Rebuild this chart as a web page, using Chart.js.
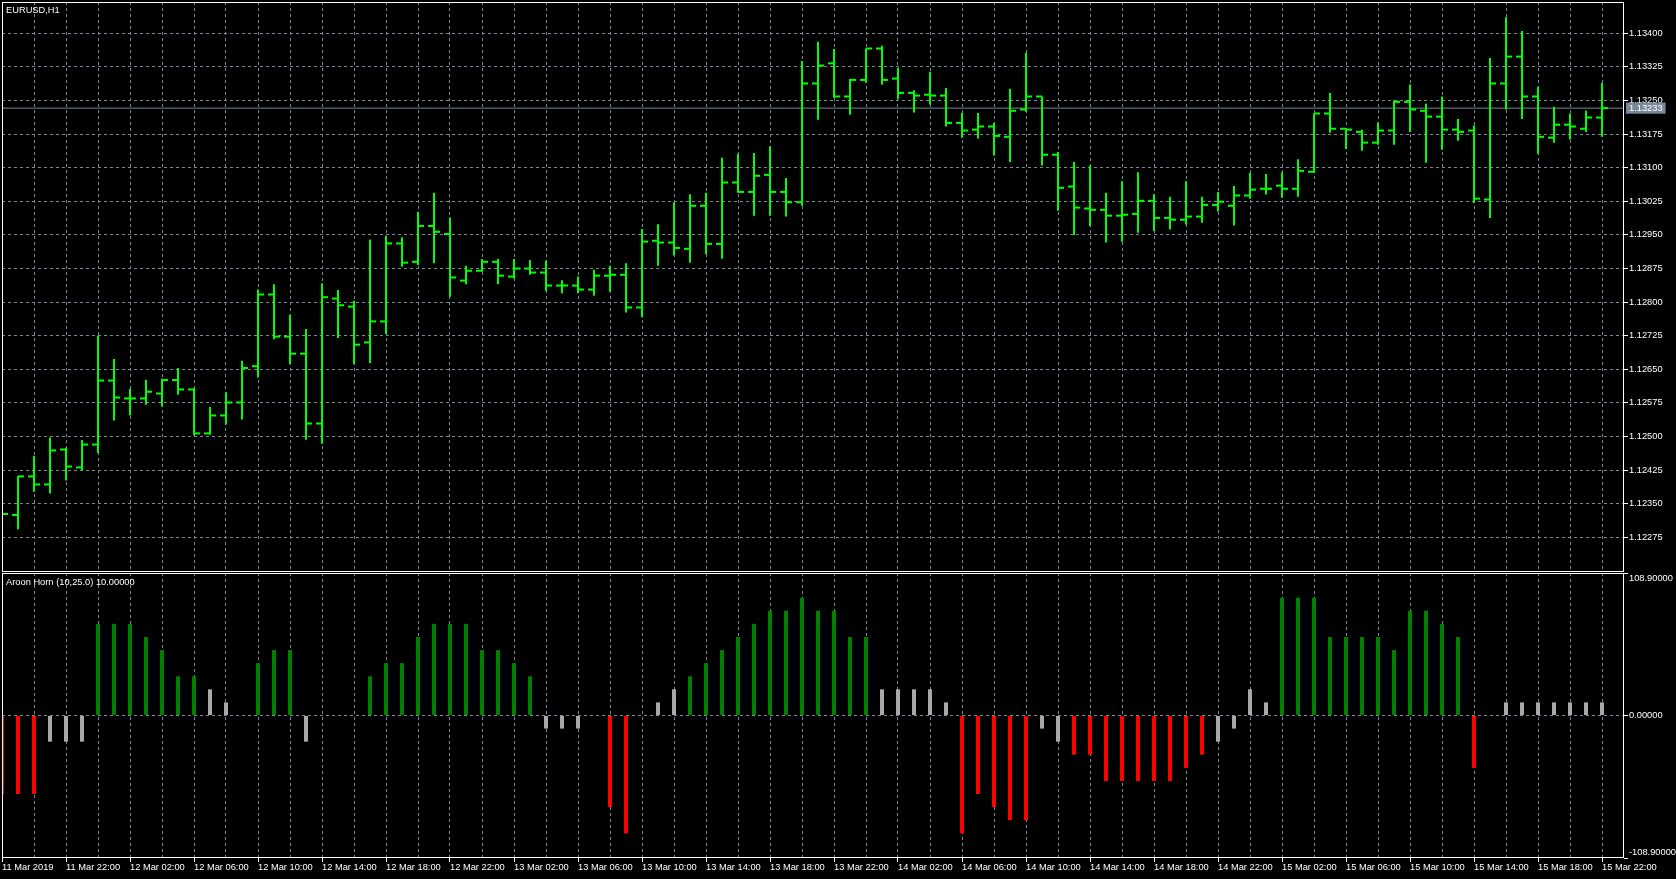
<!DOCTYPE html>
<html><head><meta charset="utf-8">
<script src="https://cdn.jsdelivr.net/npm/chart.js@4.4.1/dist/chart.umd.min.js"></script>
<style>
html,body{margin:0;padding:0;background:#000;overflow:hidden;}
#wrap{position:relative;width:1676px;height:879px;background:#000;}
#main{position:absolute;left:0;top:0;}
#ind{position:absolute;left:0;top:572px;}
</style></head><body>
<div id="wrap"><canvas id="main" width="1676" height="573"></canvas><canvas id="ind" width="1676" height="307"></canvas></div>
<script>
const symbolTitle = 'EURUSD,H1';
const indicatorTitle = 'Aroon Horn (10,25.0) 10.00000';

const timeLabels = ['11 Mar 2019','11 Mar 22:00','12 Mar 02:00','12 Mar 06:00','12 Mar 10:00','12 Mar 14:00','12 Mar 18:00','12 Mar 22:00','13 Mar 02:00','13 Mar 06:00','13 Mar 10:00','13 Mar 14:00','13 Mar 18:00','13 Mar 22:00','14 Mar 02:00','14 Mar 06:00','14 Mar 10:00','14 Mar 14:00','14 Mar 18:00','14 Mar 22:00','15 Mar 02:00','15 Mar 06:00','15 Mar 10:00','15 Mar 14:00','15 Mar 18:00','15 Mar 22:00'];

const openPrices = [
1.12330,1.12325,1.12411,1.12393,1.12471,1.12431,1.12482,1.12625,1.12585,1.12585,
1.12596,1.12626,1.12605,1.12507,1.12547,1.12576,1.12657,1.12817,1.12723,1.12685,
1.12529,1.12808,1.12790,1.12710,1.12757,1.12931,1.12890,1.12970,1.12952,1.12848,
1.12870,1.12890,1.12857,1.12875,1.12866,1.12837,1.12837,1.12828,1.12859,1.12861,
1.12788,1.12937,1.12933,1.12919,1.13015,1.12930,1.13067,1.13046,1.13084,1.13046,
1.13023,1.13288,1.13333,1.13259,1.13296,1.13366,1.13299,1.13267,1.13263,1.13261,
1.13200,1.13185,1.13192,1.13169,1.13230,1.13259,1.13129,1.13058,1.13009,1.13006,
1.12993,1.12997,1.13026,1.12988,1.12984,1.12991,1.13017,1.13015,1.13038,1.13053,
1.13060,1.13053,1.13091,1.13221,1.13187,1.13180,1.13156,1.13183,1.13247,1.13227,
1.13214,1.13185,1.13183,1.13029,1.13288,1.13348,1.13259,1.13167,1.13196,1.13187,
1.13212];
const highPrices = [
1.12340,1.12412,1.12457,1.12498,1.12475,1.12492,1.12725,1.12673,1.12606,1.12627,
1.12629,1.12653,1.12608,1.12566,1.12599,1.12669,1.12828,1.12840,1.12772,1.12740,
1.12842,1.12827,1.12803,1.12940,1.12948,1.12945,1.13001,1.13044,1.12989,1.12881,
1.12896,1.12896,1.12896,1.12894,1.12893,1.12849,1.12857,1.12872,1.12881,1.12887,
1.12963,1.12974,1.13023,1.13041,1.13044,1.13122,1.13131,1.13133,1.13148,1.13077,
1.13338,1.13381,1.13365,1.13298,1.13366,1.13372,1.13323,1.13273,1.13314,1.13278,
1.13222,1.13222,1.13200,1.13276,1.13356,1.13259,1.13135,1.13113,1.13105,1.13044,
1.13070,1.13090,1.13041,1.13035,1.13070,1.13035,1.13046,1.13059,1.13088,1.13086,
1.13090,1.13119,1.13221,1.13267,1.13187,1.13185,1.13201,1.13250,1.13286,1.13243,
1.13259,1.13209,1.13194,1.13345,1.13436,1.13405,1.13280,1.13236,1.13221,1.13227,
1.13289];
const lowPrices = [
1.12315,1.12293,1.12377,1.12373,1.12402,1.12425,1.12463,1.12536,1.12547,1.12571,
1.12567,1.12593,1.12503,1.12504,1.12527,1.12538,1.12632,1.12717,1.12662,1.12493,
1.12484,1.12720,1.12662,1.12664,1.12729,1.12879,1.12883,1.12887,1.12812,1.12840,
1.12868,1.12840,1.12853,1.12861,1.12825,1.12820,1.12820,1.12814,1.12823,1.12777,
1.12766,1.12881,1.12904,1.12888,1.12907,1.12897,1.13044,1.12993,1.12993,1.12991,
1.13015,1.13207,1.13256,1.13218,1.13290,1.13285,1.13254,1.13223,1.13241,1.13192,
1.13167,1.13165,1.13127,1.13113,1.13225,1.13105,1.13004,1.12950,1.12970,1.12933,
1.12935,1.12955,1.12959,1.12962,1.12973,1.12977,1.13002,1.12971,1.13031,1.13040,
1.13033,1.13035,1.13089,1.13178,1.13142,1.13138,1.13151,1.13151,1.13180,1.13111,
1.13140,1.13160,1.13021,1.12988,1.13230,1.13209,1.13131,1.13156,1.13163,1.13180,
1.13169];
const closePrices = [
1.12327,1.12411,1.12393,1.12469,1.12433,1.12482,1.12625,1.12587,1.12585,1.12600,
1.12626,1.12605,1.12507,1.12547,1.12576,1.12653,1.12817,1.12723,1.12685,1.12529,
1.12811,1.12793,1.12705,1.12757,1.12931,1.12888,1.12970,1.12957,1.12855,1.12870,
1.12890,1.12859,1.12875,1.12866,1.12837,1.12837,1.12828,1.12859,1.12861,1.12788,
1.12935,1.12933,1.12921,1.13015,1.12930,1.13067,1.13046,1.13082,1.13046,1.13023,
1.13288,1.13328,1.13259,1.13296,1.13366,1.13296,1.13267,1.13261,1.13261,1.13200,
1.13183,1.13192,1.13171,1.13227,1.13259,1.13129,1.13055,1.13011,1.13006,1.12993,
1.12995,1.13026,1.12988,1.12984,1.12991,1.13017,1.13024,1.13038,1.13051,1.13053,
1.13053,1.13093,1.13221,1.13187,1.13185,1.13156,1.13183,1.13247,1.13230,1.13214,
1.13185,1.13180,1.13031,1.13288,1.13348,1.13259,1.13169,1.13196,1.13192,1.13212,
1.13233];

const bidPrice = 1.13233;
const bidLabel = '1.13233';

const aroonValues = [
-60,-60,-60,-20,-20,-20,70,70,70,60,
50,30,30,20,10,0,40,50,50,-20,
0,0,0,30,40,40,60,70,70,70,
50,50,40,30,-10,-10,-10,0,-70,-90,
0,10,20,30,40,50,60,70,80,80,
90,80,80,60,60,20,20,20,20,10,
-90,-60,-70,-80,-80,-10,-20,-30,-30,-50,
-50,-50,-50,-50,-40,-30,-20,-10,20,10,
90,90,90,60,60,60,60,50,80,80,
70,60,-40,0,10,10,10,10,10,10,
10];
const aroonThreshold = 25;

const priceTicks = [1.12275,1.12350,1.12425,1.12500,1.12575,1.12650,1.12725,1.12800,1.12875,1.12950,1.13025,1.13100,1.13175,1.13250,1.13325,1.13400];
const priceTickLabels = ['1.12275','1.12350','1.12425','1.12500','1.12575','1.12650','1.12725','1.12800','1.12875','1.12950','1.13025','1.13100','1.13175','1.13250','1.13325','1.13400'];
const priceMin = 1.121976, priceMax = 1.134699;

const aroonTicks = [-108.9, 0, 108.9];
const aroonTickLabels = ['-108.90000', '0.00000', '108.90000'];

/* ---------- styling / layout ---------- */
const FONT = "'Liberation Sans', Arial, sans-serif";
const FONT_SIZE = 9.3;
const WHITE = '#ffffff';
const GRID = '#778899';
const BAR_GREEN = '#00ff00';
const AROON_UP = '#008000', AROON_DOWN = '#ff0000', AROON_FLAT = '#a9a9a9';
const AXIS_W = 52;
const X_MAX = 101.375;
const TICK_SHIFT = 3 / 16;
const NONE = 'rgba(0,0,0,0)';

Chart.defaults.font.family = FONT;
Chart.defaults.font.size = FONT_SIZE;
Chart.defaults.color = WHITE;

const indices = openPrices.map((_, i) => i);
const gridSlots = indices.filter(i => i % 2 === 0);

const framePlugin = {
  id: 'paneFrame',
  afterDraw(chart, args, opts) {
    const {ctx, chartArea: a} = chart;
    ctx.save();
    ctx.strokeStyle = WHITE; ctx.lineWidth = 1;
    ctx.strokeRect(a.left + 0.5, a.top + 0.5, a.right - a.left - 1, a.bottom - a.top - 1);
    if (opts.text) {
      ctx.fillStyle = WHITE; ctx.font = FONT_SIZE + 'px ' + FONT;
      ctx.textBaseline = 'middle'; ctx.textAlign = 'left';
      ctx.fillText(opts.text, a.left + 4, a.top + opts.dy);
    }
    ctx.restore();
  }
};

function xScale(showLabels) {
  return {
    type: 'linear', min: 0, max: X_MAX, bounds: 'data', offset: false,
    afterBuildTicks: s => { s.ticks = gridSlots.map(v => ({value: v})); },
    afterFit: s => { s.height = showLabels ? 21 : 0; s.paddingLeft = 0; s.paddingRight = 0; },
    ticks: showLabels ? {
      display: true, autoSkip: false, maxRotation: 0, minRotation: 0, align: 'start', padding: 0, color: WHITE,
      callback: v => (v % 4 === 0 ? timeLabels[v / 4] : '')
    } : {display: false},
    grid: {
      offset: false, lineWidth: 1, borderDash: [3, 3],
      color: c => (c.tick && c.tick.value === 0 ? NONE : GRID),
      drawTicks: showLabels, tickLength: 4,
      tickColor: c => (c.tick && c.tick.value % 4 === 0 ? WHITE : NONE)
    },
    border: {display: false, dash: [3, 3]}
  };
}

const bidIndex = priceTicks.length;

new Chart(document.getElementById('main'), {
  type: 'scatter',
  plugins: [framePlugin],
  data: {
    datasets: [
      { type: 'bar', label: 'High-Low', data: indices.map(i => ({x: i, y: [lowPrices[i], highPrices[i]]})),
        backgroundColor: BAR_GREEN, borderWidth: 0, barThickness: 2, inflateAmount: 0, grouped: false, clip: 0, order: 1 },
      { type: 'scatter', label: 'Open', data: indices.map(i => ({x: i - TICK_SHIFT, y: openPrices[i]})),
        pointStyle: 'line', pointRadius: 3, pointHoverRadius: 3, pointBorderWidth: 2, pointHoverBorderWidth: 2,
        pointBorderColor: BAR_GREEN, pointBackgroundColor: BAR_GREEN, clip: 0, order: 1 },
      { type: 'scatter', label: 'Close', data: indices.map(i => ({x: i + TICK_SHIFT, y: closePrices[i]})),
        pointStyle: 'line', pointRadius: 3, pointHoverRadius: 3, pointBorderWidth: 2, pointHoverBorderWidth: 2,
        pointBorderColor: BAR_GREEN, pointBackgroundColor: BAR_GREEN, clip: 0, order: 1 },
      { type: 'line', label: 'Bid', data: [{x: 0, y: bidPrice}, {x: X_MAX, y: bidPrice}],
        borderColor: GRID, borderWidth: 1, pointRadius: 0, clip: 0, order: 5 }
    ]
  },
  options: {
    responsive: false, animation: false, devicePixelRatio: 1, events: [],
    layout: {padding: {left: 2, top: 2, right: 0, bottom: 1}, autoPadding: false},
    plugins: {legend: {display: false}, tooltip: {enabled: false}, paneFrame: {text: symbolTitle, dy: 8}},
    scales: {
      x: xScale(false),
      y: {
        type: 'linear', position: 'right', min: priceMin, max: priceMax, bounds: 'data',
        afterBuildTicks: s => { s.ticks = priceTicks.map(v => ({value: v})).concat([{value: bidPrice}]); },
        afterFit: s => { s.width = AXIS_W; s.paddingTop = 0; s.paddingBottom = 0; },
        ticks: {
          autoSkip: false, padding: 1, color: WHITE,
          callback: (v, i) => (i < bidIndex ? priceTickLabels[i] : bidLabel),
          showLabelBackdrop: c => c.index === bidIndex,
          backdropColor: GRID,
          backdropPadding: {left: 3, right: 3, top: 0, bottom: 0}
        },
        grid: {
          lineWidth: 1, borderDash: [3, 3], tickLength: 4,
          color: c => (c.index === bidIndex ? NONE : GRID),
          tickColor: c => (c.index === bidIndex ? NONE : WHITE)
        },
        border: {display: false, dash: [3, 3]}
      }
    }
  }
});

new Chart(document.getElementById('ind'), {
  type: 'scatter',
  plugins: [framePlugin],
  data: {
    datasets: [
      { type: 'bar', label: 'Aroon Horn', data: indices.map(i => ({x: i, y: aroonValues[i]})),
        backgroundColor: c => {
          const v = aroonValues[c.dataIndex];
          return v > aroonThreshold ? AROON_UP : (v < -aroonThreshold ? AROON_DOWN : AROON_FLAT);
        },
        borderWidth: 0, barThickness: 4, inflateAmount: 0, grouped: false, clip: 0 }
    ]
  },
  options: {
    responsive: false, animation: false, devicePixelRatio: 1, events: [],
    layout: {padding: {left: 2, top: 1, right: 0, bottom: 0}, autoPadding: false},
    plugins: {legend: {display: false}, tooltip: {enabled: false}, paneFrame: {text: indicatorTitle, dy: 9}},
    scales: {
      x: xScale(true),
      y: {
        type: 'linear', position: 'right', min: aroonTicks[0], max: aroonTicks[aroonTicks.length - 1], bounds: 'data',
        afterBuildTicks: s => { s.ticks = aroonTicks.map(v => ({value: v})); },
        afterFit: s => { s.width = AXIS_W; s.paddingTop = 0; s.paddingBottom = 0; },
        ticks: {
          autoSkip: false, padding: 1, color: WHITE,
          callback: (v, i) => (i === 0 ? [aroonTickLabels[0], ''] : (i === aroonTicks.length - 1 ? ['', aroonTickLabels[i]] : aroonTickLabels[i]))
        },
        grid: {
          lineWidth: 1, borderDash: [3, 3], tickLength: 4,
          color: c => (c.tick && c.tick.value === 0 ? GRID : NONE),
          tickColor: WHITE
        },
        border: {display: false, dash: [3, 3]}
      }
    }
  }
});
</script>
</body></html>
